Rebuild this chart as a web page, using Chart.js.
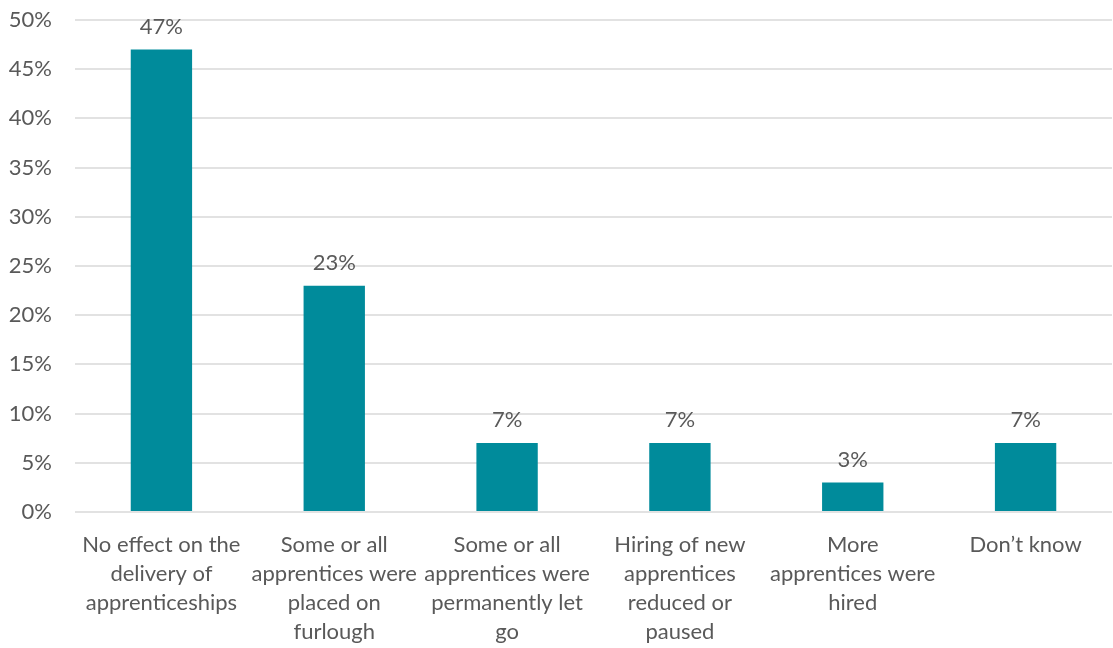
<!DOCTYPE html>
<html>
<head>
<meta charset="utf-8">
<script src="https://cdn.jsdelivr.net/npm/chart.js@4/dist/chart.umd.min.js"></script>
<style>
  html, body { margin: 0; padding: 0; background: #ffffff; }
  #wrap { width: 1113px; height: 648px; }
</style>
</head>
<body>
<div id="wrap"><canvas id="chart"></canvas></div>
<script>
// Impact of the pandemic on apprenticeships (share of respondents)
const categories = [
  ["No effect on the", "delivery of", "apprenticeships"],
  ["Some or all", "apprentices were", "placed on", "furlough"],
  ["Some or all", "apprentices were", "permanently let", "go"],
  ["Hiring of new", "apprentices", "reduced or", "paused"],
  ["More", "apprentices were", "hired"],
  ["Don\u2019t know"]
];
const shares = [47, 23, 7, 7, 3, 7];
const yTicks = [0, 5, 10, 15, 20, 25, 30, 35, 40, 45, 50];

const FONT = "Lato, 'Open Sans', sans-serif";
const TEXT = '#595959';
const BAR = '#008b9b';

// Writes the percentage above each bar
const valueLabels = {
  id: 'valueLabels',
  afterDatasetsDraw(chart) {
    const ctx = chart.ctx;
    const meta = chart.getDatasetMeta(0);
    ctx.save();
    ctx.font = '22px ' + FONT;
    ctx.fillStyle = TEXT;
    ctx.textAlign = 'center';
    ctx.textBaseline = 'bottom';
    meta.data.forEach((bar, i) => {
      ctx.fillText(shares[i] + '%', bar.x, bar.y - 12);
    });
    ctx.restore();
  }
};

new Chart(document.getElementById('chart'), {
  type: 'bar',
  data: {
    labels: categories,
    datasets: [{
      data: shares,
      backgroundColor: BAR,
      borderWidth: 0,
      barPercentage: 0.355,
      categoryPercentage: 1.0
    }]
  },
  options: {
    responsive: true,
    maintainAspectRatio: false,
    animation: false,
    layout: { padding: { top: 20, right: 1, bottom: 0, left: 0 } },
    plugins: { legend: { display: false }, tooltip: { enabled: false } },
    scales: {
      x: {
        grid: { display: false, drawTicks: false },
        border: { display: false },
        ticks: {
          color: TEXT,
          font: { family: FONT, size: 22, lineHeight: 1.32 },
          padding: 18,
          maxRotation: 0,
          autoSkip: false
        },
        afterFit(scale) {
          scale.height = 136;
          scale.paddingLeft = 0;
          scale.paddingRight = 0;
        }
      },
      y: {
        min: 0,
        max: 50,
        afterBuildTicks(scale) { scale.ticks = yTicks.map(v => ({ value: v })); },
        grid: { color: '#e2e2e2', lineWidth: 2, drawTicks: false },
        border: { display: false },
        ticks: {
          color: TEXT,
          font: { family: FONT, size: 22 },
          padding: 23,
          callback: v => v + '%'
        },
        afterFit(scale) {
          scale.width = 75;
          scale.paddingTop = 0;
          scale.paddingBottom = 0;
        }
      }
    }
  },
  plugins: [valueLabels]
});
</script>
</body>
</html>
